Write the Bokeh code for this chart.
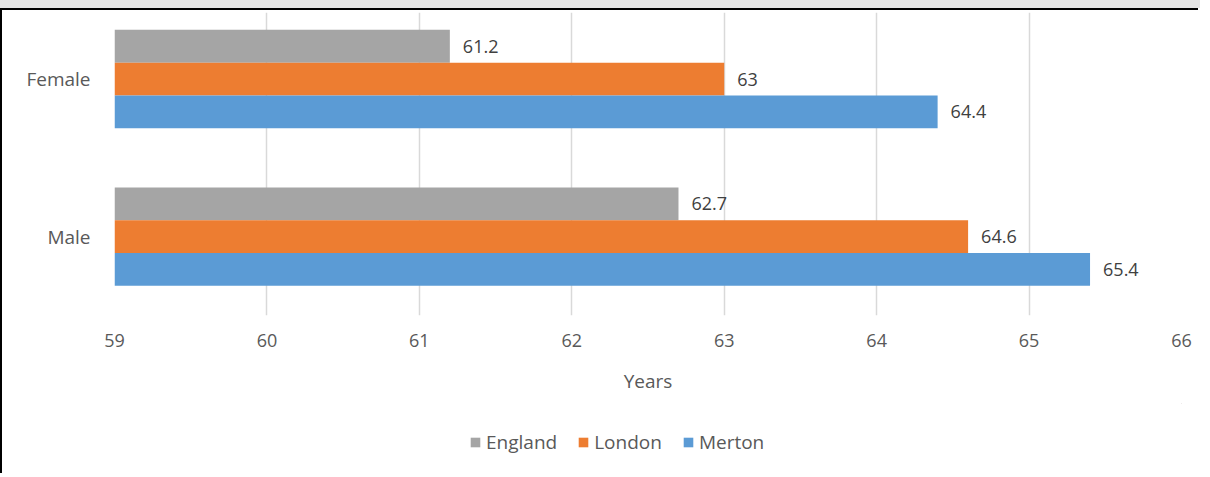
from bokeh.plotting import figure
from bokeh.layouts import column
from bokeh.models import Range1d, FixedTicker, ColumnDataSource, Legend, LegendItem, Spacer
from bokeh.core.properties import value
from bokeh.embed import file_html
from bokeh.resources import INLINE

categories = ["Female", "Male"]
cat_pos = [1, 0]
series = ["England", "London", "Merton"]
england = [61.2, 62.7]
london = [63.0, 64.6]
merton = [64.4, 65.4]
colors = ["#A5A5A5", "#ED7D31", "#5B9BD5"]
x_ticks = [59, 60, 61, 62, 63, 64, 65, 66]

FONT = "Open Sans"
bar_h = 0.208
offsets = [bar_h, 0.0, -bar_h]

top_strip = Spacer(width=1200, height=8, styles={"background-color": "#e4e4e4"})

p = figure(width=1198, height=395, output_backend="svg", toolbar_location=None,
           x_range=Range1d(59, 66), y_range=Range1d(-0.5, 1.422),
           min_border_left=112, min_border_right=19, min_border_top=2, min_border_bottom=90)
p.styles = {"border-top": "2px solid #000", "border-left": "2px solid #000"}
p.outline_line_color = None
p.background_fill_color = "white"
p.border_fill_color = "white"

for vals, col, off in zip([england, london, merton], colors, offsets):
    src = ColumnDataSource(dict(y=[c + off for c in cat_pos], v=vals,
                                lbl=[f"{v:g}" for v in vals]))
    p.hbar(y="y", left=59, right="v", height=bar_h, source=src,
           fill_color=col, line_color=None)
    p.text(x="v", y="y", text="lbl", source=src, x_offset=13,
           text_baseline="middle", text_align="left",
           text_font=value(FONT), text_font_size="18px", text_color="#404040")

# axes
p.xaxis.ticker = FixedTicker(ticks=x_ticks)
p.xaxis.axis_line_color = None
p.xaxis.major_tick_line_color = None
p.xaxis.minor_tick_line_color = None
p.xaxis.major_label_text_font = FONT
p.xaxis.major_label_text_font_size = "18px"
p.xaxis.major_label_text_color = "#595959"
p.xaxis.major_label_standoff = 12
p.xaxis.axis_label = "Years"
p.xaxis.axis_label_text_font = FONT
p.xaxis.axis_label_text_font_size = "19px"
p.xaxis.axis_label_text_font_style = "normal"
p.xaxis.axis_label_text_color = "#595959"
p.xaxis.axis_label_standoff = 18

p.yaxis.ticker = FixedTicker(ticks=cat_pos)
p.yaxis.major_label_overrides = {pos: name for pos, name in zip(cat_pos, categories)}
p.yaxis.axis_line_color = None
p.yaxis.major_tick_line_color = None
p.yaxis.minor_tick_line_color = None
p.yaxis.major_label_text_font = FONT
p.yaxis.major_label_text_font_size = "19px"
p.yaxis.major_label_text_color = "#595959"
p.yaxis.major_label_standoff = 18

p.xgrid.grid_line_color = "#D9D9D9"
p.xgrid.grid_line_width = 1.5
p.ygrid.grid_line_color = None

# legend strip below the chart (legend swatches come from off-range glyphs)
pl = figure(width=1198, height=70, output_backend="svg", toolbar_location=None,
            x_range=Range1d(0, 1), y_range=Range1d(0, 1),
            x_axis_type=None, y_axis_type=None, min_border=0)
pl.styles = {"border-left": "2px solid #000"}
pl.outline_line_color = None
pl.background_fill_color = "white"
pl.border_fill_color = "white"
leg_renderers = []
for col in colors:
    leg_renderers.append(pl.hbar(y=[5], left=[2], right=[3], height=0.1,
                                 fill_color=col, line_color=None))

legend = Legend(items=[LegendItem(label=s, renderers=[r]) for s, r in zip(series, leg_renderers)],
                orientation="horizontal", location=(355, 18))
legend.border_line_color = None
legend.background_fill_alpha = 0
legend.padding = 0
legend.margin = 0
legend.spacing = 20
legend.glyph_width = 12
legend.glyph_height = 12
legend.label_height = 20
legend.label_standoff = 5
legend.label_text_font = FONT
legend.label_text_font_size = "19px"
legend.label_text_color = "#595959"
pl.add_layout(legend, "center")

layout = column(top_strip, p, pl, spacing=0)
open("out.html", "w").write(file_html(layout, INLINE))
